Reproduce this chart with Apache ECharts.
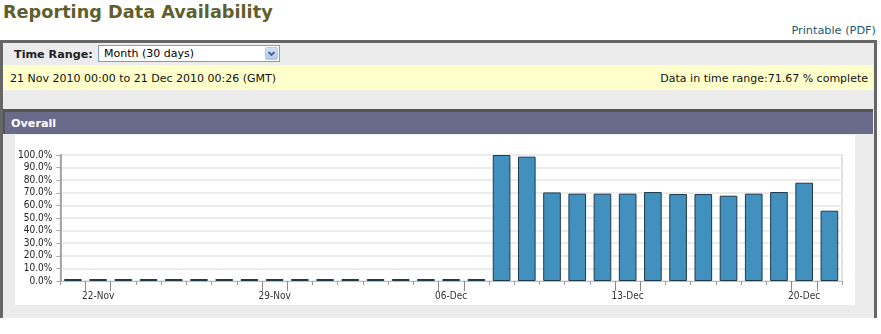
<!DOCTYPE html>
<html>
<head>
<meta charset="utf-8">
<title>Reporting Data Availability</title>
<script src="https://cdn.jsdelivr.net/npm/echarts@6/dist/echarts.min.js"></script>
<style>
  html, body { margin: 0; padding: 0; background: #fff; }
  body { position: relative; width: 881px; height: 334px; overflow: hidden;
         font-family: "DejaVu Sans", Verdana, sans-serif; color: #111; }
  .abs { position: absolute; white-space: nowrap; }
  #title { left: 3px; top: 2px; font-size: 17.7px; font-weight: bold; color: #5f5f2d; line-height: 21px; }
  #printable { right: 5px; top: 24px; font-size: 11.3px; color: #1b5a70; line-height: 13px; }
  #panel { left: 0; top: 40px; width: 871px; height: 275px; background: #ececec;
           border-top: 3px solid #666; border-left: 3px solid #666; border-right: 3px solid #666; }
  #rangeLabel { left: 14px; top: 47.5px; font-size: 11.2px; font-weight: bold; color: #222; line-height: 13px; }
  #select { left: 98px; top: 45px; width: 180px; height: 15px; background: #fff; border: 1px solid #7f9db9; }
  #selectText { left: 5px; top: 1px; font-size: 11px; color: #000; line-height: 13px; }
  #selectBtn { left: 166px; top: 1px; }
  #band { left: 3px; top: 65px; width: 870px; height: 25px; background: #ffffcc; }
  #bandLeft { left: 7px; top: 6.5px; font-size: 11px; color: #111; line-height: 13px; }
  #bandRight { right: 5px; top: 6.5px; font-size: 11px; color: #111; line-height: 13px; }
  #header { left: 3px; top: 109px; width: 868px; height: 22px; background: #6a6a8a;
            border-top: 3px solid #555; border-left: 2px solid #555; }
  #headerText { left: 6px; top: 4.5px; font-size: 11.2px; font-weight: bold; color: #fff; line-height: 13px; }
  #chart { left: 15px; top: 135px; width: 840px; height: 170px; background: #fff; }
</style>
</head>
<body>
<div class="abs" id="title">Reporting Data Availability</div>
<div class="abs" id="printable">Printable (PDF)</div>

<div class="abs" id="panel"></div>
<div class="abs" id="rangeLabel">Time Range:</div>
<div class="abs" id="select">
  <div class="abs" id="selectText">Month (30 days)</div>
  <svg class="abs" id="selectBtn" width="13" height="13" viewBox="0 0 13 13">
    <defs>
      <linearGradient id="btnFill" x1="0" y1="0" x2="0" y2="1">
        <stop offset="0" stop-color="#d6e4fb"/>
        <stop offset="1" stop-color="#adc6f0"/>
      </linearGradient>
    </defs>
    <rect x="0.5" y="0.5" width="12" height="12" rx="1.5" fill="url(#btnFill)" stroke="#b6c9ec"/>
    <polyline points="3.5,5 6.5,8 9.5,5" fill="none" stroke="#4d6185" stroke-width="1.8"/>
  </svg>
</div>

<div class="abs" id="band">
  <div class="abs" id="bandLeft">21 Nov 2010 00:00 to 21 Dec 2010 00:26 (GMT)</div>
  <div class="abs" id="bandRight">Data in time range:71.67 % complete</div>
</div>

<div class="abs" id="header"><div class="abs" id="headerText">Overall</div></div>

<div class="abs" id="chart"></div>

<script>
// One category per day of the reporting window.
var days = [
  '21-Nov', '22-Nov', '23-Nov', '24-Nov', '25-Nov', '26-Nov', '27-Nov', '28-Nov', '29-Nov', '30-Nov',
  '01-Dec', '02-Dec', '03-Dec', '04-Dec', '05-Dec', '06-Dec', '07-Dec', '08-Dec', '09-Dec', '10-Dec',
  '11-Dec', '12-Dec', '13-Dec', '14-Dec', '15-Dec', '16-Dec', '17-Dec', '18-Dec', '19-Dec', '20-Dec',
  '21-Dec'
];

// Percentage of reporting data available on each day.
var availability = [
  0, 0, 0, 0, 0, 0, 0, 0, 0, 0,
  0, 0, 0, 0, 0, 0, 0, 100, 98.7, 70.3,
  69.3, 69.3, 69.3, 70.6, 69.0, 69.0, 67.7, 69.3, 70.6, 78.0,
  55.8
];

// Days that carry a label on the time axis.
var labelledDays = ['22-Nov', '29-Nov', '06-Dec', '13-Dec', '20-Dec'];

// Value axis ticks (percent).
var yTicks = [0, 10, 20, 30, 40, 50, 60, 70, 80, 90, 100];

// Day boundaries: a point before each day plus one after the last.
var boundaries = days.map(function (d, i) { return String(i); }).concat([String(days.length)]);
var longTickIdx = [];
labelledDays.forEach(function (d) {
  var k = days.indexOf(d);
  longTickIdx.push(k, k + 1);
});

var axisFont = '"DejaVu Sans Condensed", "Liberation Sans", sans-serif';

var chart = echarts.init(document.getElementById('chart'), null, { renderer: 'canvas' });
chart.setOption({
  animation: false,
  grid: {
    left: 43, right: 13, top: 20, bottom: 24,
    show: true, borderColor: '#d9d9d9', borderWidth: 1.5, backgroundColor: 'transparent'
  },
  xAxis: [
    {
      type: 'category',
      data: days,
      position: 'bottom',
      axisLine: { onZero: false, lineStyle: { color: '#bdbdbd', width: 1 } },
      axisTick: { show: true, interval: 0, length: 4, lineStyle: { color: '#9a9a9a', width: 1 } },
      axisLabel: {
        interval: function (idx, value) { return labelledDays.indexOf(value) >= 0; },
        margin: 10, fontSize: 10, color: '#333', fontFamily: axisFont
      },
      splitLine: { show: false }
    },
    {
      type: 'category',
      data: boundaries,
      boundaryGap: false,
      position: 'bottom',
      axisLine: { show: false, onZero: false },
      axisTick: {
        show: true, length: 10,
        interval: function (idx) { return longTickIdx.indexOf(idx) >= 0; },
        lineStyle: { color: '#8a8a8a', width: 1 }
      },
      axisLabel: { show: false },
      splitLine: { show: false }
    }
  ],
  yAxis: {
    type: 'value',
    min: yTicks[0],
    max: yTicks[yTicks.length - 1],
    interval: yTicks[1] - yTicks[0],
    axisLine: { show: true, lineStyle: { color: '#a8a8a8', width: 2 } },
    axisTick: { show: true, length: 4, lineStyle: { color: '#aaaaaa', width: 1 } },
    axisLabel: {
      margin: 8, fontSize: 10, color: '#222', fontFamily: axisFont,
      formatter: function (v) { return v.toFixed(1) + '%'; }
    },
    splitLine: { show: true, lineStyle: { color: '#ebebeb', width: 2 } }
  },
  series: [{
    type: 'bar',
    xAxisIndex: 0,
    data: availability,
    barCategoryGap: '30%',
    barMinHeight: 2,
    itemStyle: { color: '#4190bd', borderColor: '#1e3b4e', borderWidth: 1 },
    emphasis: { disabled: true }
  }]
});
</script>
</body>
</html>
